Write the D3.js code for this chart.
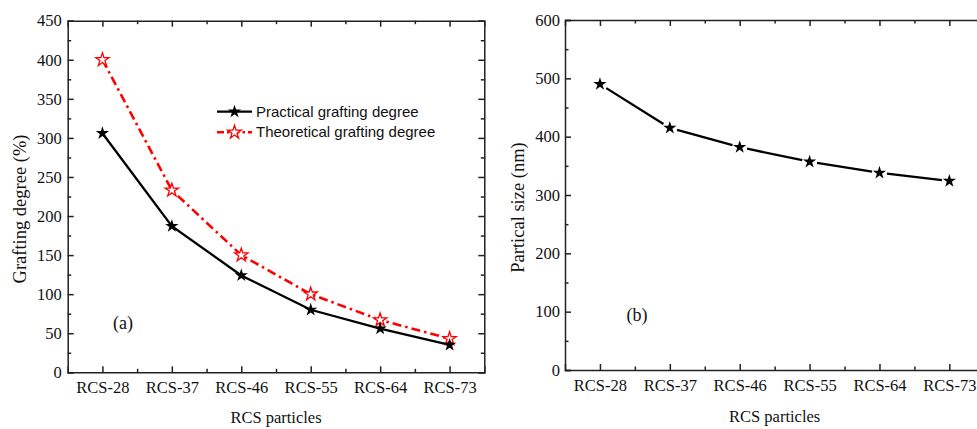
<!DOCTYPE html>
<meta charset="utf-8">
<style>
body { margin: 0; background: #fff; }
svg { display: block; }
.domain, .tick line { stroke: #222; stroke-width: 1.5px; }
</style>
<svg width="977" height="429"></svg>
<script src="https://d3js.org/d3.v7.min.js"></script>
<script>

// data
var categories = ["RCS-28", "RCS-37", "RCS-46", "RCS-55", "RCS-64", "RCS-73"];
var practical = [306, 187, 124, 80, 56, 35];
var theoretical = [400, 233, 150, 100, 67, 43];
var particleSize = [490, 415, 382, 357, 338, 324];

var SERIF = "'Liberation Serif'", SANS = "'Liberation Sans'";
var svg = d3.select("svg");
var star = d3.symbol().type(d3.symbolStar).size(55);

function font(sel, fam, size) {
  return sel.style("font-family", fam).style("font-size", size + "px").attr("fill", "#111");
}

// draws the frame of one panel, returns its scales
function panel(o) {
  var g = svg.append("g");
  var x = d3.scalePoint().domain(categories).range(o.xr).padding(0.5);
  var xi = d3.scaleLinear().domain([-0.5, categories.length - 0.5]).range(o.xr);
  var y = d3.scaleLinear().domain([0, o.ymax]).range(o.yr);
  var majors = d3.range(0, o.ymax + 1, o.ystep);
  var minors = d3.range(o.ystep / 2, o.ymax, o.ystep);
  var xmin = d3.range(0.5, categories.length - 1, 1);

  // bottom
  g.append("g").attr("transform", "translate(0," + o.yr[0] + ")")
    .call(d3.axisBottom(x).tickSize(-6).tickPadding(9));
  g.append("g").attr("transform", "translate(0," + o.yr[0] + ")")
    .call(d3.axisBottom(xi).tickValues(xmin).tickSize(-3.5).tickFormat(""))
    .select(".domain").remove();
  // top
  g.append("g").attr("transform", "translate(0," + o.yr[1] + ")")
    .call(d3.axisTop(x).tickSize(-6).tickFormat(""));
  g.append("g").attr("transform", "translate(0," + o.yr[1] + ")")
    .call(d3.axisTop(xi).tickValues(xmin).tickSize(-3.5).tickFormat(""))
    .select(".domain").remove();
  // left
  g.append("g").attr("transform", "translate(" + o.xr[0] + ",0)")
    .call(d3.axisLeft(y).tickValues(majors).tickSize(-6).tickPadding(o.ypad));
  g.append("g").attr("transform", "translate(" + o.xr[0] + ",0)")
    .call(d3.axisLeft(y).tickValues(minors).tickSize(-3.5).tickFormat(""))
    .select(".domain").remove();
  // right
  g.append("g").attr("transform", "translate(" + o.xr[1] + ",0)")
    .call(d3.axisRight(y).tickValues(majors).tickSize(-6).tickFormat(""));
  g.append("g").attr("transform", "translate(" + o.xr[1] + ",0)")
    .call(d3.axisRight(y).tickValues(minors).tickSize(-3.5).tickFormat(""))
    .select(".domain").remove();

  g.selectAll(".domain").attr("fill", "none");
  font(g.selectAll(".tick text"), SERIF, 16.5);

  font(g.append("text"), SERIF, 16.5).attr("text-anchor", "middle")
    .attr("x", (o.xr[0] + o.xr[1]) / 2).attr("y", o.xtitleY)
    .text("RCS particles");
  font(g.append("text"), SERIF, 18.5).attr("text-anchor", "middle")
    .attr("transform", "translate(" + o.ytitleX + "," + o.ytitleY + ") rotate(-90)")
    .text(o.ytitle);
  font(g.append("text"), SERIF, 18).attr("text-anchor", "middle")
    .attr("x", o.tag[0]).attr("y", o.tag[1]).text(o.label);

  return {g: g, x: x, y: y};
}

// (a) grafting degree
var a = panel({
  xr: [67.7, 484.3], yr: [372.3, 20.7], ymax: 450, ystep: 50, ypad: 6,
  xtitleY: 423, ytitleX: 26, ytitleY: 209, ytitle: "Grafting degree (%)",
  tag: [123, 329], label: "(a)"
});

var lineA = d3.line()
  .x(function(d, i) { return a.x(categories[i]); })
  .y(function(d) { return a.y(d); });

a.g.append("path").datum(theoretical)
  .attr("d", lineA).attr("fill", "none")
  .attr("stroke", "#ff0000").attr("stroke-width", 2.6)
  .attr("stroke-dasharray", "9,4,2.5,4");
a.g.append("path").datum(practical)
  .attr("d", lineA).attr("fill", "none")
  .attr("stroke", "#000").attr("stroke-width", 2.3);

a.g.selectAll(".pt").data(theoretical).enter().append("path")
  .attr("transform", function(d, i) { return "translate(" + a.x(categories[i]) + "," + a.y(d) + ")"; })
  .attr("d", star).attr("fill", "#fff").attr("stroke", "#ff0000").attr("stroke-width", 1.3);
a.g.selectAll(".pp").data(practical).enter().append("path")
  .attr("transform", function(d, i) { return "translate(" + a.x(categories[i]) + "," + a.y(d) + ")"; })
  .attr("d", star).attr("fill", "#000");

// legend
var leg = a.g.append("g");
var rows = [
  {name: "Practical grafting degree", color: "#000", dash: null, fill: "#000"},
  {name: "Theoretical grafting degree", color: "#ff0000", dash: "7,3,2.5,3", fill: "#fff"}
];
rows.forEach(function(r, i) {
  var yy = 111.7 + i * 20.6;
  leg.append("line").attr("x1", 217).attr("x2", 252).attr("y1", yy).attr("y2", yy)
    .attr("stroke", r.color).attr("stroke-width", i ? 2.6 : 2.3)
    .attr("stroke-dasharray", r.dash);
  leg.append("path").attr("transform", "translate(234.5," + yy + ")")
    .attr("d", star).attr("fill", r.fill).attr("stroke", i ? r.color : "none").attr("stroke-width", 1.3);
  font(leg.append("text"), SANS, 15).attr("x", 256).attr("y", yy + 4.8).text(r.name);
});

// (b) particle size
var b = panel({
  xr: [565, 984.3], yr: [370, 20], ymax: 600, ystep: 100, ypad: 5,
  xtitleY: 422, ytitleX: 523.5, ytitleY: 207.5, ytitle: "Partical size (nm)",
  tag: [637, 320.5], label: "(b)"
});

// line with small gaps round each symbol
var pts = particleSize.map(function(d, i) { return [b.x(categories[i]), b.y(d)]; });
var gap = 7.5;
b.g.selectAll(".seg").data(d3.pairs(pts)).enter().append("line")
  .each(function(p) {
    var dx = p[1][0] - p[0][0], dy = p[1][1] - p[0][1], len = Math.sqrt(dx * dx + dy * dy);
    var ux = dx / len, uy = dy / len;
    d3.select(this)
      .attr("x1", p[0][0] + ux * gap).attr("y1", p[0][1] + uy * gap)
      .attr("x2", p[1][0] - ux * gap).attr("y2", p[1][1] - uy * gap);
  })
  .attr("stroke", "#000").attr("stroke-width", 2.3);

b.g.selectAll(".pb").data(pts).enter().append("path")
  .attr("transform", function(d) { return "translate(" + d[0] + "," + d[1] + ")"; })
  .attr("d", star).attr("fill", "#000");

</script>
